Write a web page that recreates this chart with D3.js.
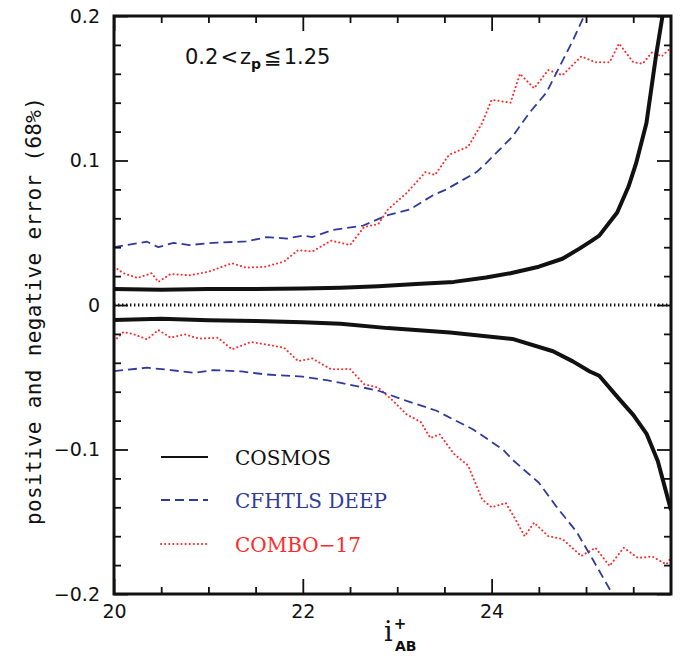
<!DOCTYPE html>
<html><head><meta charset="utf-8">
<script src="https://cdn.jsdelivr.net/npm/d3@7/dist/d3.min.js"></script>
<style>body{margin:0;background:#fff}svg{display:block}</style>
</head><body>
<svg id="c" width="681" height="656"></svg>
<script>
// ---- data ----
const cosmosPosX = [20.0,20.5,21.0,21.5,22.0,22.4,22.8,23.2,23.6,23.94,24.2,24.5,24.75,24.93,25.05,25.14,25.33,25.45,25.53,25.64,25.74,25.81,25.86];
const cosmosPosY = [0.011,0.0105,0.011,0.011,0.0115,0.012,0.013,0.0145,0.016,0.019,0.022,0.0265,0.032,0.039,0.044,0.048,0.064,0.082,0.098,0.126,0.172,0.2,0.23];
const cosmosNegX = [20.0,20.5,21.0,21.5,22.0,22.4,22.9,23.56,24.22,24.65,24.86,25.04,25.14,25.35,25.5,25.64,25.76,25.9];
const cosmosNegY = [-0.0104,-0.0095,-0.0105,-0.011,-0.012,-0.013,-0.016,-0.019,-0.0235,-0.032,-0.039,-0.046,-0.049,-0.065,-0.076,-0.089,-0.108,-0.142];

const cfhtlsPosX = [20.0,20.35,20.47,20.63,20.8,21.05,21.4,21.62,21.83,22.0,22.1,22.32,22.64,22.89,23.13,23.38,23.52,23.84,23.94,24.22,24.4,24.58,24.72,24.86,24.98,25.2];
const cfhtlsPosY = [0.040,0.0438,0.040,0.043,0.0415,0.043,0.044,0.047,0.046,0.048,0.047,0.052,0.055,0.062,0.066,0.076,0.080,0.092,0.098,0.1165,0.133,0.147,0.165,0.183,0.2,0.24];
const cfhtlsNegX = [20.0,20.35,20.6,20.85,21.05,21.35,21.6,22.0,22.25,22.39,22.81,23.1,23.41,23.8,24.12,24.22,24.5,24.68,24.9,25.07,25.28,25.45];
const cfhtlsNegY = [-0.0457,-0.0434,-0.045,-0.047,-0.045,-0.046,-0.048,-0.0496,-0.052,-0.0537,-0.0595,-0.0664,-0.073,-0.086,-0.100,-0.107,-0.123,-0.139,-0.157,-0.176,-0.2,-0.22];

const comboPosX = [20.0,20.1,20.25,20.4,20.47,20.6,20.8,21.0,21.25,21.4,21.6,21.8,21.95,22.1,22.3,22.5,22.65,22.8,22.9,23.1,23.3,23.4,23.55,23.75,23.9,24.0,24.2,24.3,24.45,24.6,24.75,24.95,25.1,25.25,25.35,25.5,25.6,25.7,25.8,25.9];
const comboPosY = [0.0265,0.022,0.0187,0.022,0.016,0.0215,0.0205,0.023,0.0289,0.0258,0.0265,0.030,0.038,0.037,0.0445,0.0415,0.054,0.056,0.066,0.0775,0.092,0.090,0.104,0.1095,0.126,0.142,0.140,0.160,0.150,0.1626,0.159,0.172,0.168,0.168,0.181,0.168,0.167,0.175,0.172,0.178];
const comboNegX = [20.0,20.1,20.2,20.35,20.47,20.6,20.75,20.9,21.1,21.25,21.45,21.6,21.8,21.95,22.1,22.3,22.5,22.65,22.8,22.95,23.1,23.25,23.35,23.45,23.6,23.75,23.9,24.0,24.15,24.25,24.35,24.45,24.6,24.75,24.95,25.1,25.25,25.4,25.55,25.7,25.85,25.9];
const comboNegY = [-0.025,-0.0187,-0.020,-0.0238,-0.0173,-0.0226,-0.0203,-0.0233,-0.0226,-0.0307,-0.0256,-0.0272,-0.0295,-0.0388,-0.037,-0.0445,-0.0443,-0.0549,-0.0572,-0.066,-0.0757,-0.081,-0.092,-0.0895,-0.103,-0.111,-0.1345,-0.140,-0.137,-0.148,-0.160,-0.1506,-0.160,-0.162,-0.1737,-0.168,-0.1806,-0.168,-0.175,-0.174,-0.1795,-0.175];

const xMajorTicks = [20, 22, 24];
const xMajorLabels = ["20", "22", "24"];
const xMinorTicks = [20.5,21,21.5,22.5,23,23.5,24.5,25,25.5];
const yMajorTicks = [-0.2,-0.1,0,0.1,0.2];
const yMajorLabels = ["\u22120.2","\u22120.1","0","0.1","0.2"];
const yMinorTicks = [-0.18,-0.16,-0.14,-0.12,-0.08,-0.06,-0.04,-0.02,0.02,0.04,0.06,0.08,0.12,0.14,0.16,0.18];
const legendNames = ["COSMOS", "CFHTLS DEEP", "COMBO\u221217"];

// ---- drawing ----
const svg = d3.select("#c");
const L = 114, R = 671, T = 16, B = 594;
const x = d3.scaleLinear().domain([20, 25.9]).range([L, R]);
const y = d3.scaleLinear().domain([-0.2, 0.2]).range([B, T]);

svg.append("defs").append("clipPath").attr("id","clip")
  .append("rect").attr("x",L).attr("y",T).attr("width",R-L).attr("height",B-T);

const plot = svg.append("g").attr("clip-path","url(#clip)");
const line = d3.line().x(d=>x(d[0])).y(d=>y(d[1]));
const zip = (a,b)=>a.map((v,i)=>[v,b[i]]);

const blue = "#2f3b9c", red = "#ff2a2a";

// zero dotted line
plot.append("path").attr("d", line([[20,0],[25.9,0]]))
  .attr("fill","none").attr("stroke","#111").attr("stroke-width",3).attr("stroke-dasharray","1.4,2.6");

function drawSeries(xs, ys, style) {
  plot.append("path").attr("d", line(zip(xs, ys)))
    .attr("fill","none").attr("stroke",style.color).attr("stroke-width",style.w)
    .attr("stroke-dasharray",style.dash).attr("stroke-linecap",style.cap||"butt")
    .attr("stroke-linejoin","round");
}
const sCosmos = {color:"#111", w:4, dash:null};
const sCfhtls = {color:blue, w:1.8, dash:"9,5"};
const sCombo = {color:red, w:2, dash:"0.1,4", cap:"round"};
drawSeries(comboPosX, comboPosY, sCombo);
drawSeries(comboNegX, comboNegY, sCombo);
drawSeries(cfhtlsPosX, cfhtlsPosY, sCfhtls);
drawSeries(cfhtlsNegX, cfhtlsNegY, sCfhtls);
drawSeries(cosmosPosX, cosmosPosY, sCosmos);
drawSeries(cosmosNegX, cosmosNegY, sCosmos);

// axes
const tickFont = "DejaVu Sans, sans-serif";
function styleAxis(g){
  g.selectAll(".domain").remove();
  g.selectAll(".tick line").attr("stroke","#111").attr("stroke-width",1.8);
  g.selectAll(".tick text").attr("font-family",tickFont).attr("font-size",19).attr("fill","#111");
}
svg.append("g").attr("transform",`translate(0,${B})`)
  .call(d3.axisBottom(x).tickValues(xMajorTicks).tickSize(-15).tickPadding(11)
    .tickFormat((d,i)=>xMajorLabels[i])).call(styleAxis);
svg.append("g").attr("transform",`translate(0,${B})`)
  .call(d3.axisBottom(x).tickValues(xMinorTicks).tickSize(-7).tickFormat("")).call(styleAxis);
svg.append("g").attr("transform",`translate(0,${T})`)
  .call(d3.axisTop(x).tickValues(xMajorTicks).tickSize(-15).tickFormat("")).call(styleAxis);
svg.append("g").attr("transform",`translate(0,${T})`)
  .call(d3.axisTop(x).tickValues(xMinorTicks).tickSize(-7).tickFormat("")).call(styleAxis);
svg.append("g").attr("transform",`translate(${L},0)`)
  .call(d3.axisLeft(y).tickValues(yMajorTicks).tickSize(-14).tickPadding(14)
    .tickFormat((d,i)=>yMajorLabels[i])).call(styleAxis);
svg.append("g").attr("transform",`translate(${L},0)`)
  .call(d3.axisLeft(y).tickValues(yMinorTicks).tickSize(-7).tickFormat("")).call(styleAxis);
svg.append("g").attr("transform",`translate(${R},0)`)
  .call(d3.axisRight(y).tickValues(yMajorTicks).tickSize(-14).tickFormat("")).call(styleAxis);
svg.append("g").attr("transform",`translate(${R},0)`)
  .call(d3.axisRight(y).tickValues(yMinorTicks).tickSize(-7).tickFormat("")).call(styleAxis);

// frame
svg.append("rect").attr("x",L).attr("y",T).attr("width",R-L).attr("height",B-T)
  .attr("fill","none").attr("stroke","#111").attr("stroke-width",3);

// title inside plot
const title = svg.append("text").attr("x",185).attr("y",64)
  .attr("font-family",tickFont).attr("font-size",21).attr("fill","#111");
title.append("tspan").text("0.2");
title.append("tspan").attr("dx",2).text("<");
title.append("tspan").attr("dx",2).text("z");
title.append("tspan").attr("font-size",14).attr("font-weight","bold").attr("dy",5).text("p");
title.append("tspan").attr("dy",-5).attr("dx",3).text("\u2266");
title.append("tspan").attr("dx",2).text("1.25");

// y label
svg.append("text").attr("transform","translate(41,311) rotate(-90)")
  .attr("text-anchor","middle").attr("font-family","DejaVu Sans Mono, monospace")
  .attr("font-size",21).attr("fill","#111")
  .attr("textLength",428).attr("lengthAdjust","spacing")
  .text("positive and negative error (68%)");

// x label
const xl = svg.append("text").attr("x",384).attr("y",641)
  .attr("font-family","DejaVu Serif, serif").attr("font-size",27).attr("fill","#111");
xl.append("tspan").text("i");
xl.append("tspan").attr("font-family",tickFont).attr("font-size",15).attr("font-weight","bold")
  .attr("dy",-12).attr("dx",1).text("+");
xl.append("tspan").attr("font-family",tickFont).attr("font-size",14).attr("font-weight","bold")
  .attr("x",395).attr("dy",22).text("AB");

// legend
const legStyles = [sCosmos, sCfhtls, sCombo];
const legY = [457, 500, 544];
legendNames.forEach((name,i)=>{
  const st = legStyles[i];
  svg.append("line").attr("x1",161).attr("x2",208).attr("y1",legY[i]).attr("y2",legY[i])
    .attr("stroke",st.color).attr("stroke-width", i===0 ? 2 : st.w)
    .attr("stroke-dasharray",st.dash).attr("stroke-linecap",st.cap||"butt");
  svg.append("text").attr("x",235).attr("y",legY[i]+8)
    .attr("font-family","DejaVu Serif, serif").attr("font-size",20)
    .attr("fill", st.color).text(name);
});
</script>
</body></html>
